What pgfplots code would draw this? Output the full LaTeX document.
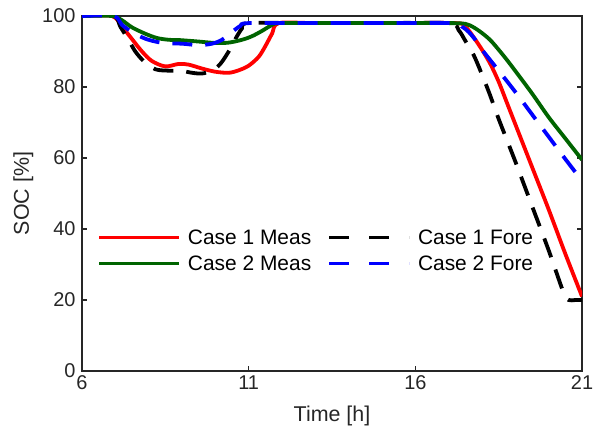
\documentclass[border=0pt]{standalone}
\usepackage{fontspec}
\setmainfont{Liberation Sans}
\usepackage{pgfplots}
\pgfplotsset{compat=1.18}
\usetikzlibrary{calc}
\definecolor{axgray}{RGB}{38,38,38}
\definecolor{dgreen}{RGB}{0,100,0}
\begin{document}
\begin{tikzpicture}
\begin{axis}[
  scale only axis, width=500bp, height=355bp,
  xmin=6, xmax=21, ymin=0, ymax=100,
  xtick={6,11,16,21}, ytick={0,20,40,60,80,100},
  tick pos=both, tick align=inside,
  major tick length=5bp,
  axis line style={axgray, line width=2.5bp},
  every tick/.style={axgray, line width=1.5bp},
  /pgf/number format/assume math mode=true,
  tick label style={font=\fontsize{20}{24}\selectfont, text=axgray},
  xticklabel style={yshift=-1bp},
  yticklabel style={xshift=-3bp},
  xlabel={Time [h]}, ylabel={SOC [\%]},
  label style={font=\fontsize{21.5}{25}\selectfont, text=axgray},
  xlabel style={yshift=-10bp},
  ylabel style={yshift=2bp},
  legend columns=2,
  legend cell align=left,
  legend style={at={(rel axis cs:0.03,0.405)}, anchor=north west, draw=none, fill=none, inner sep=0pt,
    font=\fontsize{21}{25}\selectfont, row sep=6bp,
    /tikz/every even column/.append style={column sep=14bp}},
  legend image code/.code={\draw[#1] (0bp,0bp) -- (80bp,0bp); \path (85bp,0bp);},
  every axis plot/.append style={line width=3.8bp, smooth, tension=0.5},
]
\addplot[red] coordinates {
(6,100) (6.9,100) (7.2,97) (7.5,93.5) (7.8,90) (8.1,87.3) (8.5,85.8) (8.9,86.5) (9.2,86.3) (9.6,85.2) (10.0,84.3) (10.4,84) (10.7,84.7) (11.0,86) (11.3,88.5) (11.5,91.5) (11.7,95) (11.9,98)
(13,98) (15,98) (17.2,98) (17.5,97) (17.75,94) (18.0,90.5) (18.25,86.5) (18.5,81.5) (18.75,75.5) (19.0,69.5) (19.5,57.5) (20,45.5) (20.5,33) (21,21)};
\addlegendentry{Case 1 Meas}
\addplot[black, dash pattern=on 20bp off 13bp, legend image post style={dash pattern=on 20bp off 20bp}] coordinates {
(6,100) (6.95,100) (7.15,97) (7.4,93.2) (7.6,90) (7.85,87.3) (8.2,85) (8.6,84.6) (8.95,84.6) (9.3,84) (9.6,83.8) (9.9,84.6) (10.15,86.5) (10.4,90) (10.6,93.5) (10.8,96.5) (11.0,98)
(13,98) (15,98) (17.0,98) (17.3,96) (17.5,93) (17.75,89) (18.0,83.5) (18.25,77.5) (18.5,71) (19.0,59) (19.5,46.5) (20.0,34) (20.45,22) (20.6,20) (20.8,20) (21,20)};
\addlegendentry{Case 1 Fore}
\addplot[dgreen] coordinates {
(6,100) (6.9,100) (7.2,98.8) (7.5,96.8) (7.9,95) (8.25,93.8) (8.6,93.3) (8.95,93.2) (9.5,92.8) (10,92.4) (10.4,92.5) (10.8,93.3) (11.1,94.3) (11.4,95.8) (11.65,97.2) (11.9,98)
(13,98) (15,98) (17.0,98) (17.5,97.8) (17.75,96.8) (18.0,95.2) (18.25,93.2) (18.5,90.5) (18.75,87.6) (19.0,84.5) (19.5,78.2) (20,71.5) (20.5,65.5) (21,59.5)};
\addlegendentry{Case 2 Meas}
\addplot[blue, dash pattern=on 20bp off 13bp, legend image post style={dash pattern=on 20bp off 20bp}] coordinates {
(6,100) (6.95,100) (7.2,97.5) (7.5,95.5) (7.9,93.6) (8.3,92.6) (8.6,92.3) (9.0,92.2) (9.5,91.8) (9.9,92.2) (10.2,93.3) (10.5,95.5) (10.75,97.2) (11.0,98)
(13,98) (15,98) (17.1,98) (17.4,97) (17.6,95.5) (17.8,93.3) (18.0,90.5) (18.5,84.6) (19.0,78.6) (19.5,72.3) (20,66) (20.5,59.7) (21,53.6)};
\addlegendentry{Case 2 Fore}
\end{axis}
\pgfresetboundingbox
\path[use as bounding box] ($(current axis.south west)+(-82bp,-61bp)$) rectangle ($(current axis.north east)+(21bp,16bp)$);
\end{tikzpicture}
\end{document}
